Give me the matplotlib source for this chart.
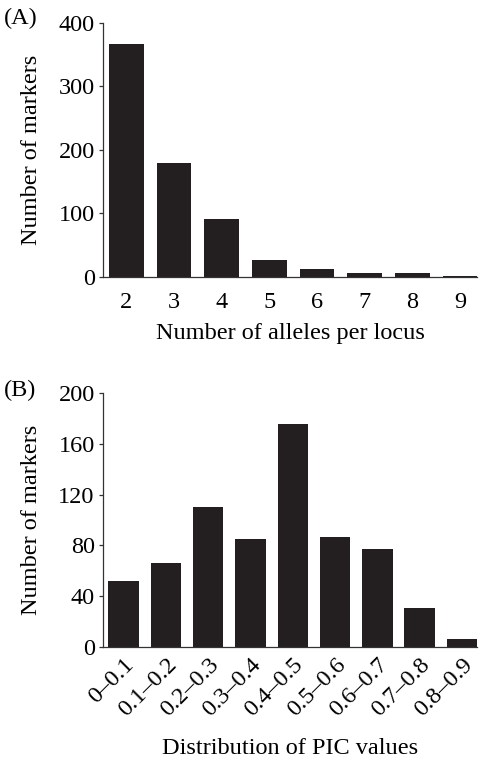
import matplotlib
matplotlib.use("Agg")
import matplotlib.pyplot as plt

## data

alleles = [2, 3, 4, 5, 6, 7, 8, 9]
alleles_counts = [366, 179, 91, 27, 13, 7, 7, 2]

pic_bins = ["0\u20130.1", "0.1\u20130.2", "0.2\u20130.3", "0.3\u20130.4", "0.4\u20130.5",
            "0.5\u20130.6", "0.6\u20130.7", "0.7\u20130.8", "0.8\u20130.9"]
pic_counts = [52, 66, 110, 85, 176, 87, 77, 31, 6]

plt.rcParams["font.family"] = ["Liberation Serif", "DejaVu Serif"]
plt.rcParams["font.size"] = 17.5

bar_color = "#231f20"
spine_color = "#333333"

fig = plt.figure(figsize=(4.79, 7.62), dpi=100)

def style_axes(ax, xpad):
    for side in ["top", "right"]:
        ax.spines[side].set_visible(False)
    for side in ["left", "bottom"]:
        ax.spines[side].set_color(spine_color)
        ax.spines[side].set_linewidth(0.9)
    ax.tick_params(axis="y", direction="out", length=3, width=0.9, pad=3, color=spine_color)
    ax.tick_params(axis="x", length=0, pad=xpad)

## (A) number of alleles per locus

ax1 = fig.add_axes([0.215, 0.6365, 0.781, 0.3335])
ax1.bar(alleles, alleles_counts, width=0.73, color=bar_color)
ax1.set_xlim(1.51, 9.36)
ax1.set_ylim(0, 400)
ax1.set_yticks([0, 100, 200, 300, 400])
ax1.set_xticks(alleles)
style_axes(ax1, 11)
ax1.set_xlabel("Number of alleles per locus", labelpad=7)
ax1.set_ylabel("Number of markers", labelpad=12)
fig.text(0.008, 0.99, "(A)", ha="left", va="top", fontsize=17.5)

## (B) PIC distribution

ax2 = fig.add_axes([0.215, 0.151, 0.781, 0.333])
pos = list(range(len(pic_bins)))
ax2.bar(pos, pic_counts, width=0.72, color=bar_color)
ax2.set_xlim(-0.49, 8.36)
ax2.set_ylim(0, 200)
ax2.set_yticks([0, 40, 80, 120, 160, 200])
ax2.set_xticks(pos)
ax2.set_xticklabels(pic_bins, rotation=45, ha="right", va="top", rotation_mode="anchor")
style_axes(ax2, 5)
ax2.set_xlabel("Distribution of PIC values", labelpad=13)
ax2.set_ylabel("Number of markers", labelpad=12)
fig.text(0.008, 0.501, "(B)", ha="left", va="top", fontsize=17.5)

fig.savefig("out.png", dpi=100)
